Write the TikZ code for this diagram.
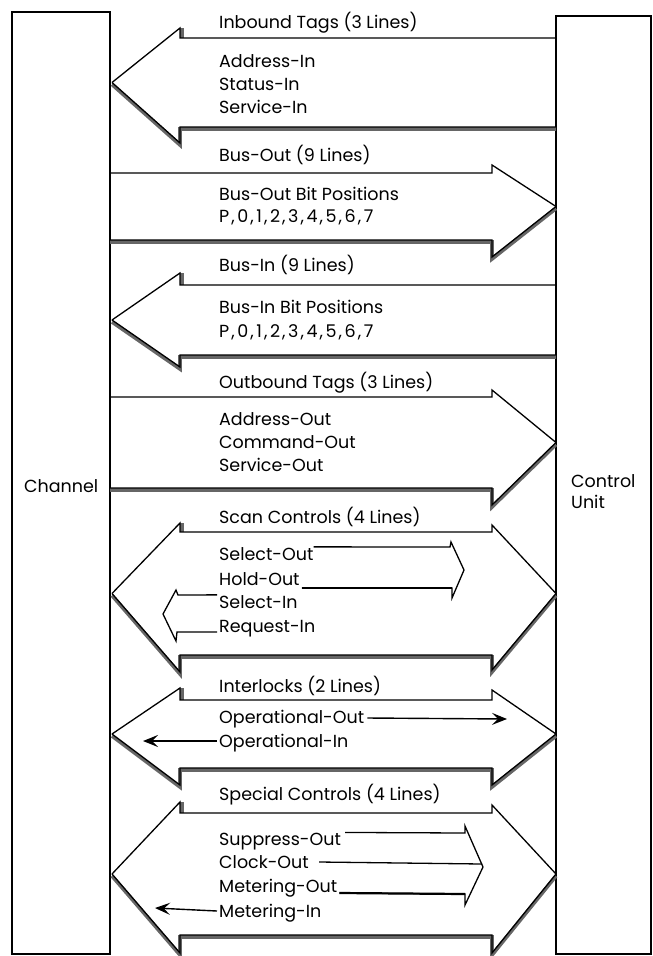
\documentclass[tikz,border=0pt]{standalone}
\usepackage{fontspec}
\setmainfont{Poppins}
\usepackage{tikz}
\usetikzlibrary{arrows.meta, positioning, calc}
\newcommand{\bitsep}{\kern2pt,\kern2.6pt}

\begin{document}
\begin{tikzpicture}[
    x=1pt, y=-1pt,
    box/.style={draw, line width=1.1pt},
    upper/.style={draw, line width=1.3pt, line join=miter},
    lower/.style={draw, line width=1.3pt, line join=miter},
    shadowline/.style={draw=black!60, line width=3.6pt, line join=miter},
    hollow/.style={draw, line width=1.3pt, line join=miter},
    txt/.style={anchor=base west, inner sep=0pt, font=\fontsize{17.5}{23}\selectfont},
    sig/.style={draw, line width=1.4pt, -{Stealth[length=15pt, width=12pt, inset=6pt]}},
]
\useasboundingbox (0,0) rectangle (653,956);

% Units
\draw[box] (12,12) rectangle (110,954);
\draw[box] (556,16) rectangle (651,954);
\node[txt] (chan) at (24,492) {Channel};
\node[txt] (cu) at (571,487) {Control};
\node[txt] (unit) at (571,508) {Unit};

% Inbound tags
\draw[shadowline, shift={(0,2)}] (112,82.5) -- (180,143) -- (180,127) -- (556,127);
\draw[lower] (112,82.5) -- (180,143) -- (180,127) -- (556,127);
\fill[black!60] (180,28) rectangle (183.5,38);
\draw[upper] (556,38) -- (180,38) -- (180,28) -- (112,82.5);
\node[txt] (inb) at (219,28) {Inbound Tags (3 Lines)};
\node[txt] (addrin) at (219,67) {Address-In};
\node[txt] (statin) at (219,90) {Status-In};
\node[txt] (servin) at (219,113) {Service-In};

% Bus-out
\draw[shadowline, shift={(0,2)}] (556,206.5) -- (492,257) -- (492,240) -- (110,240);
\draw[lower] (556,206.5) -- (492,257) -- (492,240) -- (110,240);
\draw[upper] (110,173) -- (492,173) -- (492,165) -- (556,206.5);
\node[txt] (busout) at (219,161) {Bus-Out (9 Lines)};
\node[txt] (busoutbits) at (219,200) {Bus-Out Bit Positions};
\node[txt] (busoutp) at (219,222) {P\bitsep0\bitsep1\bitsep2\bitsep3\bitsep4\bitsep5\bitsep6\bitsep7};

% Bus-in
\draw[shadowline, shift={(0,2)}] (112,320) -- (180,367) -- (180,355) -- (556,355);
\draw[lower] (112,320) -- (180,367) -- (180,355) -- (556,355);
\fill[black!60] (180,273) rectangle (183.5,285);
\draw[upper] (556,285) -- (180,285) -- (180,273) -- (112,320);
\node[txt] (busin) at (219,271) {Bus-In (9 Lines)};
\node[txt] (businbits) at (219,313) {Bus-In Bit Positions};
\node[txt] (businp) at (219,337) {P\bitsep0\bitsep1\bitsep2\bitsep3\bitsep4\bitsep5\bitsep6\bitsep7};

% Outbound tags
\draw[shadowline, shift={(0,2)}] (556,442.5) -- (492,505) -- (492,488) -- (110,488);
\draw[lower] (556,442.5) -- (492,505) -- (492,488) -- (110,488);
\draw[upper] (110,397) -- (492,397) -- (492,390) -- (556,442.5);
\node[txt] (outb) at (219,388) {Outbound Tags (3 Lines)};
\node[txt] (addrout) at (219,425) {Address-Out};
\node[txt] (cmdout) at (219,448) {Command-Out};
\node[txt] (servout) at (219,471) {Service-Out};

% Scan controls
\draw[shadowline, shift={(0,2)}] (112,593.5) -- (180,672) -- (180,655) -- (492,655) -- (492,670) -- (556,593.5);
\draw[lower] (112,593.5) -- (180,672) -- (180,655) -- (492,655) -- (492,670) -- (556,593.5);
\fill[black!60] (180,523) rectangle (183.5,532);
\draw[upper] (112,593.5) -- (180,523) -- (180,532) -- (492,532) -- (492,525) -- (556,593.5);
\node[txt] (scan) at (219,523) {Scan Controls (4 Lines)};
\node[txt] (selout) at (219,560) {Select-Out};
\node[txt] (holdout) at (219,585) {Hold-Out};
\node[txt] (selin) at (219,608) {Select-In};
\node[txt] (reqin) at (219,632) {Request-In};
\draw[hollow] (selout.north east) -- (450,547) -- (451,542) -- (464,570) -- (452,598) -- (452,588) -- ($(holdout.base east)+(2,3)$);
\draw[line width=2.2pt] (452,588) -- ($(holdout.base east)+(2,3)$);
\draw[hollow] ($(selin.north west)+(-2,0)$) -- (178,595) -- (176,590) -- (163,614) -- (176,641) -- (177,632) -- ($(reqin.base west)+(-2,0)$);

% Interlocks
\draw[shadowline, shift={(0,2)}] (112,734) -- (180,785) -- (180,768) -- (492,768) -- (492,785) -- (556,734);
\draw[lower] (112,734) -- (180,785) -- (180,768) -- (492,768) -- (492,785) -- (556,734);
\fill[black!60] (180,688) rectangle (183.5,700);
\draw[upper] (112,734) -- (180,688) -- (180,700) -- (492,700) -- (492,690) -- (556,734);
\node[txt] (intlk) at (219,692) {Interlocks (2 Lines)};
\node[txt] (opout) at (219,723) {Operational-Out};
\node[txt] (opin) at (219,747) {Operational-In};
\coordinate (opoutend) at (507,719);
\coordinate (opinend) at (143,741);
\draw[sig] ($(opout.base east)+(3,-5)$) -- (opoutend);
\draw[sig] ($(opin.base west)+(-2,-6)$) -- (opinend);

% Special controls
\draw[shadowline, shift={(0,2)}] (112,874) -- (180,953) -- (180,935) -- (492,935) -- (492,953) -- (556,874);
\draw[lower] (112,874) -- (180,953) -- (180,935) -- (492,935) -- (492,953) -- (556,874);
\fill[black!60] (180,802) rectangle (183.5,813);
\draw[upper] (112,874) -- (180,802) -- (180,813) -- (492,813) -- (492,805) -- (556,874);
\node[txt] (spec) at (219,800) {Special Controls (4 Lines)};
\node[txt] (suppout) at (219,845) {Suppress-Out};
\node[txt] (clkout) at (219,868) {Clock-Out};
\node[txt] (metout) at (219,892) {Metering-Out};
\node[txt] (metin) at (219,917) {Metering-In};
\coordinate (clkend) at (482,864);
\coordinate (metinend) at (155,908);
\draw[hollow] ($(suppout.north east)+(4,0)$) -- (465,833) -- (465,826) -- (483,867) -- (465,905) -- (465,894) -- ($(metout.base east)+(2,1)$);
\draw[line width=2.2pt] (465,894) -- ($(metout.base east)+(2,1)$);
\draw[hollow] ($(clkout.base east)+(10,-6)$) -- (clkend);
\draw[sig] ($(metin.base west)+(-2,-6)$) -- (metinend);

\end{tikzpicture}
\end{document}
